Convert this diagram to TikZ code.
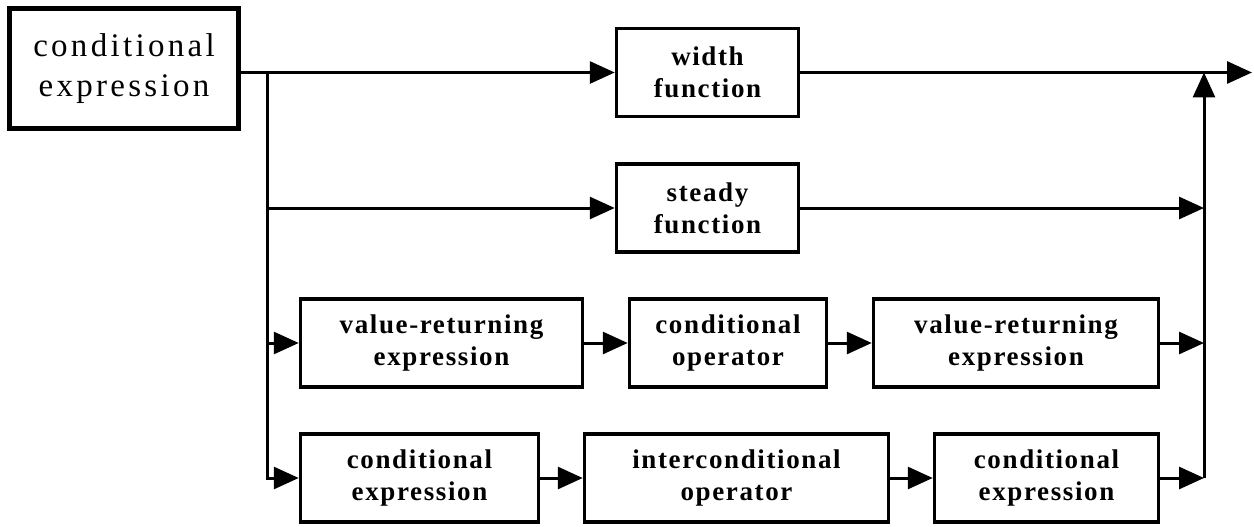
\documentclass[tikz,border=0pt]{standalone}
\usepackage{fontspec}
\setmainfont{Liberation Serif}
\newfontfamily\spacedbox[LetterSpace=6]{Liberation Serif}
\newfontfamily\spacedhead[LetterSpace=10]{Liberation Serif}
\usepackage{tikz}
\usetikzlibrary{positioning,arrows.meta}

\begin{document}
\begin{tikzpicture}[
  x=1pt, y=-1pt,
  every node/.style={align=center},
  head/.style={draw, line width=5.5pt, inner sep=0pt, minimum width=229pt, minimum height=120pt,
    font=\spacedhead\fontsize{33}{40}\selectfont},
  part/.style={draw, line width=3.5pt, inner sep=0pt, minimum height=88pt,
    font=\spacedbox\bfseries\fontsize{27}{32}\selectfont},
  flow/.style={-{Triangle[length=25pt, width=22pt]}, line width=3pt},
]
\useasboundingbox (0,0) rectangle (1254,527);
% head
\node[head] (main) at (124,68.5) {conditional\\expression};
% first two alternatives
\node[part, minimum width=182pt] (wf) at (707.5,72.5) {width\\function};
\node[part, minimum width=182pt] (sf) at (707.5,208) {steady\\function};
% third alternative
\node[part, minimum width=282pt] (vr1) at (441.5,343) {value-returning\\expression};
\node[part, minimum width=197pt] (co) at (728,343) {conditional\\operator};
\node[part, minimum width=285pt] (vr2) at (1016,343) {value-returning\\expression};
% fourth alternative
\node[part, minimum width=238pt] (ce1) at (419.5,478) {conditional\\expression};
\node[part, minimum width=304pt] (io) at (736.5,478) {interconditional\\operator};
\node[part, minimum width=224pt] (ce2) at (1046.5,478) {conditional\\expression};
% split and join points
\coordinate (split) at (267,72.5);
\coordinate (join) at (1204,72.5);
\coordinate (out) at (1252,72.5);
% flow
\draw[flow] (main.east |- wf.west) -- (wf.west);
\draw[flow] (wf.east) -- (out);
\draw[flow] (split |- sf.west) -- (sf.west);
\draw[flow] (split |- vr1.west) -- (vr1.west);
\draw[flow] (split) |- (ce1.west);
\draw[flow] (vr1) -- (co);
\draw[flow] (co) -- (vr2);
\draw[flow] (ce1) -- (io);
\draw[flow] (io) -- (ce2);
\draw[flow] (sf.east) -- (join |- sf.east);
\draw[flow] (vr2.east) -- (join |- vr2.east);
\draw[flow] (ce2.east) -- (join |- ce2.east);
\draw[flow] (join |- ce2.east) -- (join);
\end{tikzpicture}
\end{document}
